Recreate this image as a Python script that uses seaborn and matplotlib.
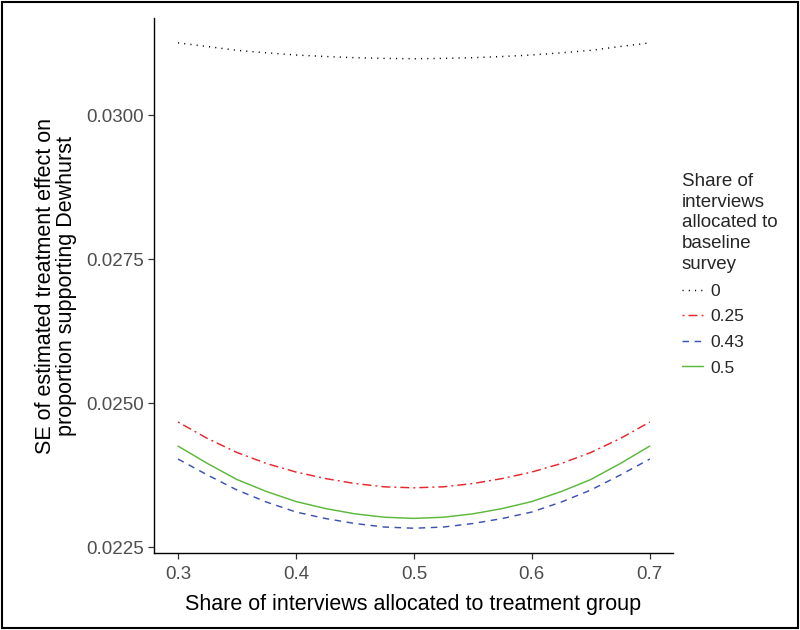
import matplotlib
matplotlib.use("Agg")
import matplotlib.pyplot as plt
import seaborn as sns
import pandas as pd
from matplotlib.patches import Rectangle

# ---- data ----
treat_share = [0.300, 0.325, 0.350, 0.375, 0.400, 0.425, 0.450, 0.475, 0.500,
               0.525, 0.550, 0.575, 0.600, 0.625, 0.650, 0.675, 0.700]
se_0 = [0.031253, 0.031189, 0.031123, 0.031080, 0.031042, 0.031016, 0.030995, 0.030983, 0.030977,
        0.030983, 0.030995, 0.031016, 0.031042, 0.031080, 0.031123, 0.031189, 0.031253]
se_025 = [0.024670, 0.024384, 0.024141, 0.023950, 0.023802, 0.023689, 0.023602, 0.023545, 0.023528,
          0.023545, 0.023602, 0.023689, 0.023802, 0.023950, 0.024141, 0.024384, 0.024670]
se_043 = [0.024028, 0.023750, 0.023490, 0.023281, 0.023108, 0.022995, 0.022908, 0.022847, 0.022826,
          0.022847, 0.022908, 0.022995, 0.023108, 0.023281, 0.023490, 0.023750, 0.024028]
se_05 = [0.024253, 0.023950, 0.023672, 0.023464, 0.023290, 0.023168, 0.023076, 0.023017, 0.022997,
         0.023017, 0.023076, 0.023168, 0.023290, 0.023464, 0.023672, 0.023950, 0.024253]
baseline_labels = ["0", "0.25", "0.43", "0.5"]
x_ticks = [0.3, 0.4, 0.5, 0.6, 0.7]
y_ticks = [0.0225, 0.0250, 0.0275, 0.0300]
y_tick_labels = ["0.0225", "0.0250", "0.0275", "0.0300"]

series = {"0": se_0, "0.25": se_025, "0.43": se_043, "0.5": se_05}
df = pd.concat([pd.DataFrame({"treat": treat_share, "se": v, "baseline": k})
                for k, v in series.items()], ignore_index=True)

# ---- style ----
sns.set_theme(style="ticks")
plt.rcParams["font.family"] = ["Liberation Sans", "DejaVu Sans"]
plt.rcParams["lines.scale_dashes"] = False

colors = {"0": "#000000", "0.25": "#E8262D", "0.43": "#3C52B5", "0.5": "#5CB83A"}
styles = {"0": (0, (0.8, 3.7)),
          "0.25": (0, (1.4, 2.9, 6.5, 2.9)),
          "0.43": (0, (4.7, 4.0)),
          "0.5": "-"}

fig = plt.figure(figsize=(8, 6.3), dpi=100)
ax = fig.add_axes([0.1925, 0.1222, 0.841 - 0.1925, 0.9714 - 0.1222])

for lab in baseline_labels:
    sub = df[df["baseline"] == lab]
    sns.lineplot(data=sub, x="treat", y="se", ax=ax, color=colors[lab],
                 linestyle=styles[lab], linewidth=1.05, label=lab, legend=False)

ax.set_xlim(0.27966, 0.71949)
ax.set_ylim(0.022396, 0.031684)
ax.set_xticks(x_ticks)
ax.set_xticklabels([f"{t:.1f}" for t in x_ticks])
ax.set_yticks(y_ticks)
ax.set_yticklabels(y_tick_labels)

for s in ["top", "right"]:
    ax.spines[s].set_visible(False)
for s in ["left", "bottom"]:
    ax.spines[s].set_color("black")
    ax.spines[s].set_linewidth(1.0)
ax.tick_params(axis="both", direction="out", length=4, width=0.9, color="#333333",
               labelcolor="#4D4D4D", labelsize=13.5, pad=3)
ax.tick_params(axis="x", pad=5)

ax.set_xlabel("Share of interviews allocated to treatment group", fontsize=15.5,
              color="black", labelpad=8)
ax.set_ylabel("SE of estimated treatment effect on\nproportion supporting Dewhurst",
              fontsize=15.5, color="black", labelpad=7, linespacing=1.0)

handles, labels = ax.get_legend_handles_labels()
leg = fig.legend(handles, labels, title="Share of\ninterviews\nallocated to\nbaseline\nsurvey",
                 loc="upper left", bbox_to_anchor=(0.8435, 0.737), frameon=False,
                 fontsize=12.5, title_fontsize=13.5, handlelength=1.2, handletextpad=0.45,
                 labelspacing=0.6, alignment="left", borderaxespad=0)
leg.get_title().set_linespacing(1.3)

fig.patches.append(Rectangle((0.002, 0.003), 0.995, 0.994, transform=fig.transFigure,
                             fill=False, edgecolor="black", linewidth=1.5))

fig.savefig("out.png", dpi=100)
